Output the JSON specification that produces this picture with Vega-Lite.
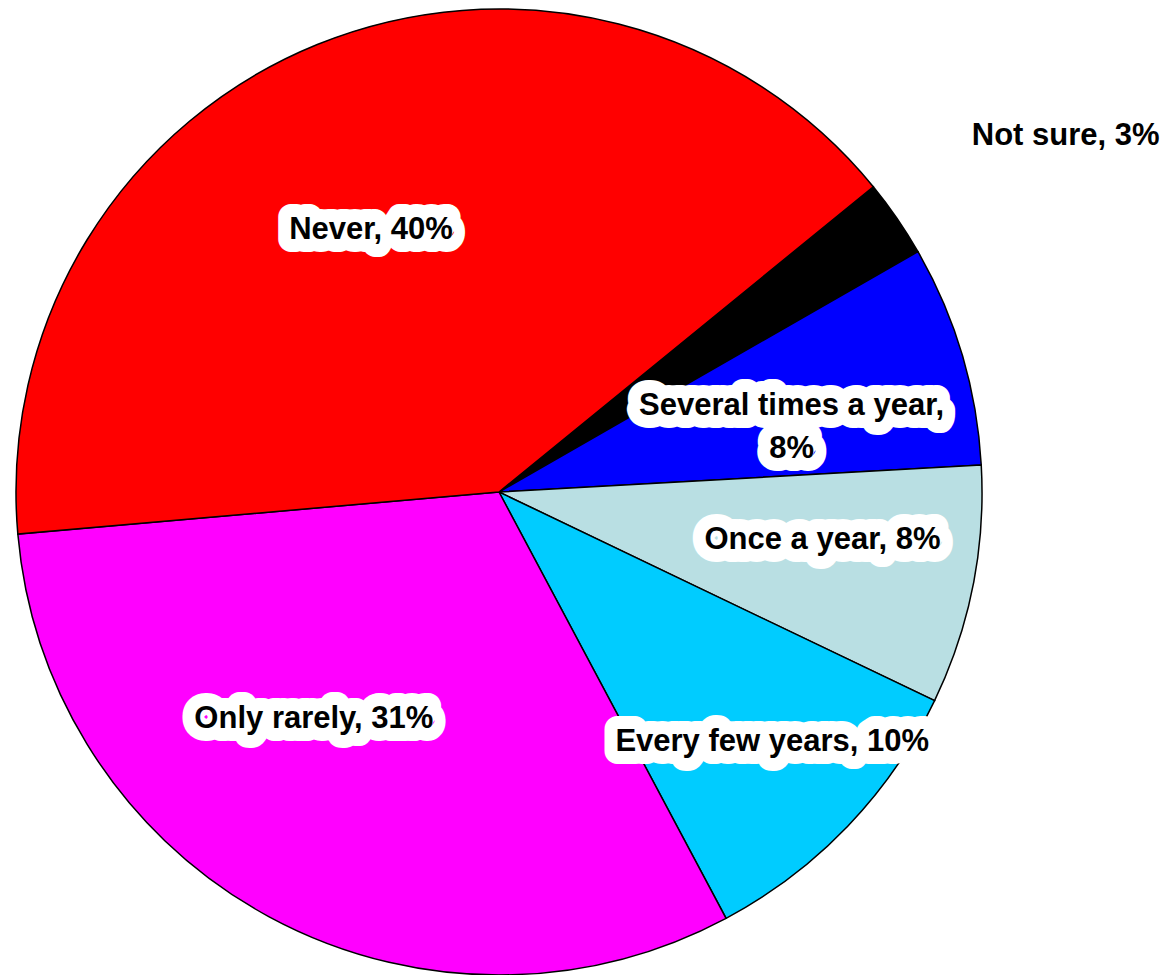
{
  "$schema": "https://vega.github.io/schema/vega-lite/v6.json",
  "width": 998,
  "height": 984,
  "autosize": "none",
  "padding": {"left": 0, "top": 0, "right": 169, "bottom": 0},
  "background": "white",
  "view": {"stroke": null},
  "data": {"values": [
    {"cat": "Not sure", "pct": 2.6, "order": 1, "label": "Not sure, 3%"},
    {"cat": "Several times a year", "pct": 7.4, "order": 2, "label": "Several times a year,\n8%"},
    {"cat": "Once a year", "pct": 8.0, "order": 3, "label": "Once a year, 8%"},
    {"cat": "Every few years", "pct": 10.1, "order": 4, "label": "Every few years, 10%"},
    {"cat": "Only rarely", "pct": 31.4, "order": 5, "label": "Only rarely, 31%"},
    {"cat": "Never", "pct": 40.5, "order": 6, "label": "Never, 40%"}
  ]},
  "encoding": {
    "theta": {"field": "pct", "type": "quantitative", "stack": true, "scale": {"domain": [0, 100], "range": [0.8866, 7.1698]}},
    "order": {"field": "order", "type": "quantitative"}
  },
  "layer": [
    {
      "mark": {"type": "arc", "outerRadius": 483, "stroke": "black", "strokeWidth": 1.5},
      "encoding": {
        "color": {"field": "cat", "type": "nominal", "legend": null,
          "scale": {"domain": ["Not sure", "Several times a year", "Once a year", "Every few years", "Only rarely", "Never"],
                    "range": ["#000000", "#0000FF", "#B9DFE3", "#00CCFF", "#FF00FF", "#FF0000"]}}
      }
    },
    {
      "mark": {"type": "text", "font": "Liberation Sans", "fontWeight": "bold", "fontSize": 31, "align": "center", "baseline": "middle",
        "lineBreak": "\n", "lineHeight": 43, "fill": "white", "stroke": "white", "strokeWidth": 26, "strokeJoin": "round",
        "radius": {"expr": "datum.cat === 'Never' ? 292 : datum.cat === 'Only rarely' ? 293 : datum.cat === 'Every few years' ? 370 : datum.cat === 'Once a year' ? 327 : datum.cat === 'Several times a year' ? 305 : 669"},
        "thetaOffset": {"expr": "datum.cat === 'Never' ? -0.068 : datum.cat === 'Only rarely' ? 0.187 : datum.cat === 'Every few years' ? -0.024 : datum.cat === 'Once a year' ? -0.049 : datum.cat === 'Several times a year' ? 0.002 : 0.042"}},
      "encoding": {"text": {"condition": {"test": "datum.cat === 'Not sure'", "value": ""}, "field": "label"}}
    },
    {
      "mark": {"type": "text", "font": "Liberation Sans", "fontWeight": "bold", "fontSize": 31, "align": "center", "baseline": "middle",
        "lineBreak": "\n", "lineHeight": 43, "fill": "black",
        "radius": {"expr": "datum.cat === 'Never' ? 292 : datum.cat === 'Only rarely' ? 293 : datum.cat === 'Every few years' ? 370 : datum.cat === 'Once a year' ? 327 : datum.cat === 'Several times a year' ? 305 : 669"},
        "thetaOffset": {"expr": "datum.cat === 'Never' ? -0.068 : datum.cat === 'Only rarely' ? 0.187 : datum.cat === 'Every few years' ? -0.024 : datum.cat === 'Once a year' ? -0.049 : datum.cat === 'Several times a year' ? 0.002 : 0.042"}},
      "encoding": {"text": {"field": "label"}}
    }
  ]
}
